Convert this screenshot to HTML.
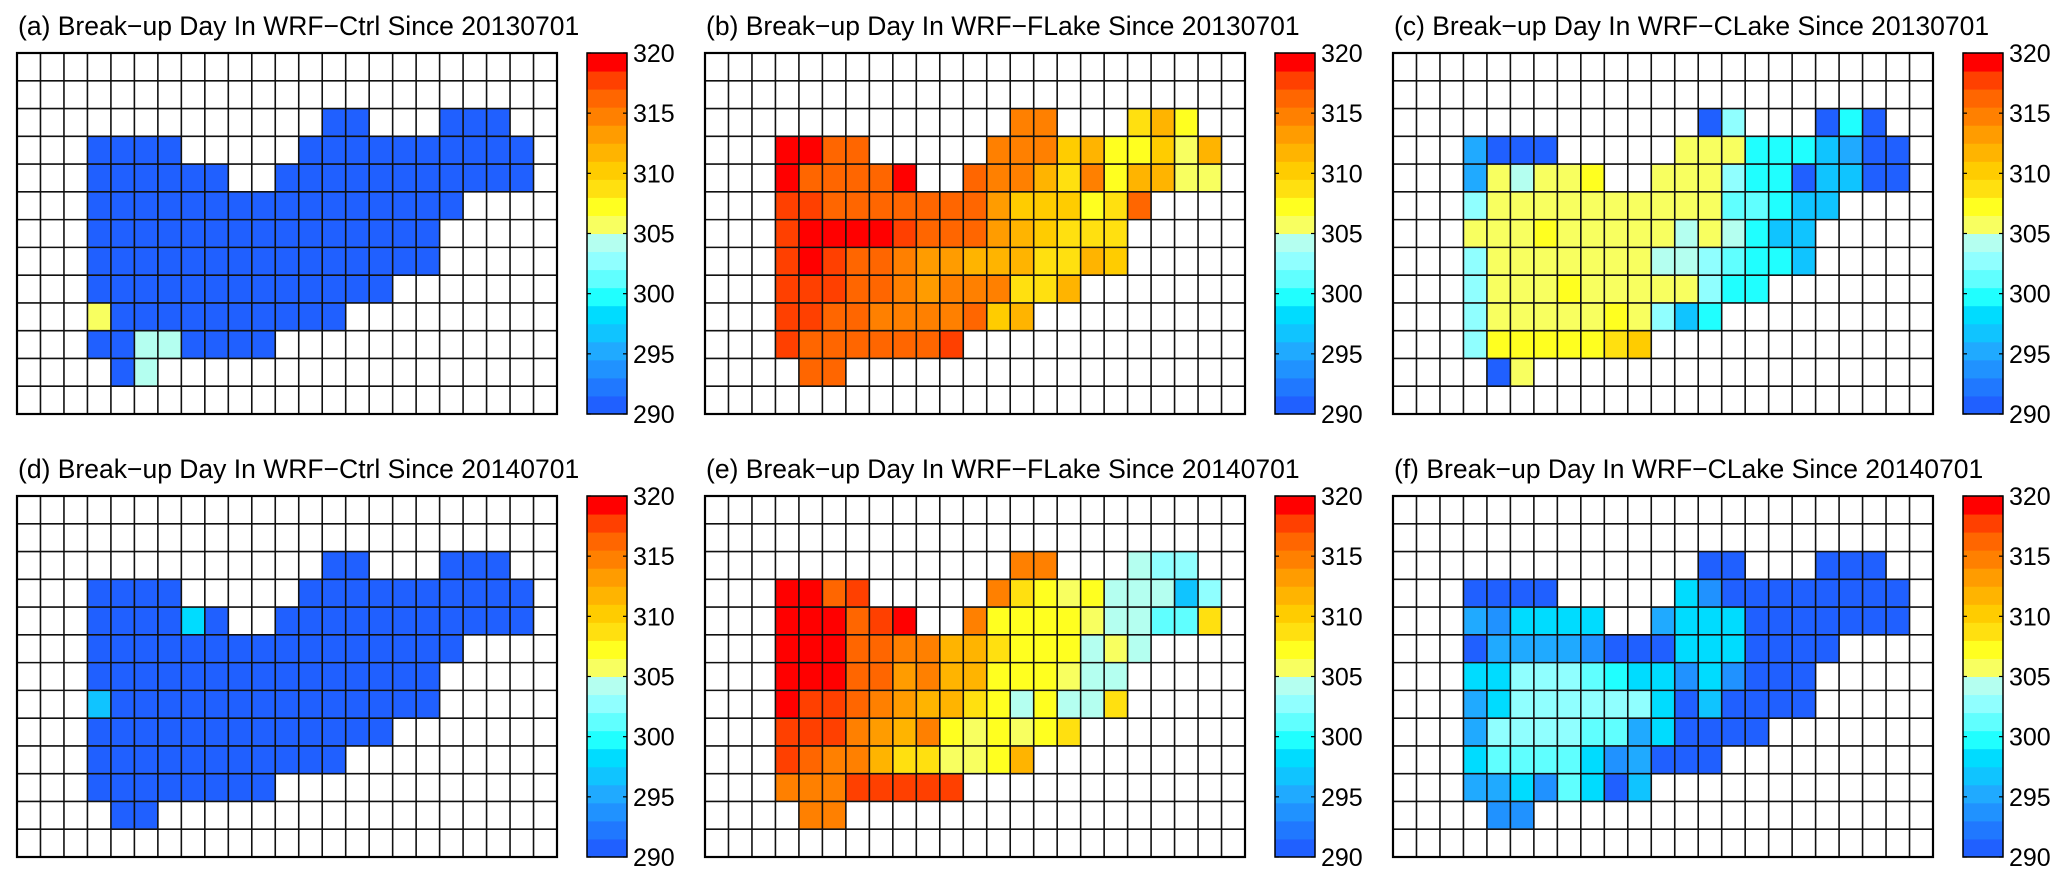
<!DOCTYPE html>
<html><head><meta charset="utf-8"><style>
html,body{margin:0;padding:0;background:#fff;}
svg{display:block;font-family:"Liberation Sans",Arial,sans-serif;}
</style></head><body>
<svg id="fig" width="2067" height="878" viewBox="0 0 2067 878" xmlns="http://www.w3.org/2000/svg"></svg>
<script>
const _ = null;
const titles = [
 "(a) Break\u2212up Day In WRF\u2212Ctrl Since 20130701",
 "(b) Break\u2212up Day In WRF\u2212FLake Since 20130701",
 "(c) Break\u2212up Day In WRF\u2212CLake Since 20130701",
 "(d) Break\u2212up Day In WRF\u2212Ctrl Since 20140701",
 "(e) Break\u2212up Day In WRF\u2212FLake Since 20140701",
 "(f) Break\u2212up Day In WRF\u2212CLake Since 20140701"];
const cbTicks = [290,295,300,305,310,315,320];
const cbMin = 290, cbMax = 320, cbBins = 20;
const E = [_,_,_,_,_,_,_,_,_,_,_,_,_,_,_,_,_,_,_,_,_,_,_];
const dataA = [E,E,
 [_,_,_,_,_,_,_,_,_,_,_,_,_,291,291,_,_,_,291,291,291,_,_],
 [_,_,_,291,291,291,291,_,_,_,_,_,291,291,291,291,291,291,291,291,291,291,_],
 [_,_,_,291,291,291,291,291,291,_,_,291,291,291,291,291,291,291,291,291,291,291,_],
 [_,_,_,291,291,291,291,291,291,291,291,291,291,291,291,291,291,291,291,_,_,_,_],
 [_,_,_,291,291,291,291,291,291,291,291,291,291,291,291,291,291,291,_,_,_,_,_],
 [_,_,_,291,291,291,291,291,291,291,291,291,291,291,291,291,291,291,_,_,_,_,_],
 [_,_,_,291,291,291,291,291,291,291,291,291,291,291,291,291,_,_,_,_,_,_,_],
 [_,_,_,306,291,291,291,291,291,291,291,291,291,291,_,_,_,_,_,_,_,_,_],
 [_,_,_,291,291,304,304,291,291,291,291,_,_,_,_,_,_,_,_,_,_,_,_],
 [_,_,_,_,291,304,_,_,_,_,_,_,_,_,_,_,_,_,_,_,_,_,_],
 E];
const dataB = [E,E,
 [_,_,_,_,_,_,_,_,_,_,_,_,_,315,315,_,_,_,309,312,307,_,_],
 [_,_,_,319,319,316,316,_,_,_,_,_,315,315,315,310,312,307,307,310,306,312,_],
 [_,_,_,319,316,316,316,316,319,_,_,316,315,315,312,309,315,307,312,312,306,306,_],
 [_,_,_,318,318,316,316,316,316,316,316,316,313,310,310,310,307,309,316,_,_,_,_],
 [_,_,_,318,319,319,319,319,318,316,316,316,313,312,310,309,309,309,_,_,_,_,_],
 [_,_,_,318,319,318,316,316,315,313,313,312,312,312,309,309,312,310,_,_,_,_,_],
 [_,_,_,318,318,318,316,316,315,313,315,315,315,309,309,312,_,_,_,_,_,_,_],
 [_,_,_,318,318,316,316,315,315,315,315,316,310,312,_,_,_,_,_,_,_,_,_],
 [_,_,_,318,316,316,316,316,316,316,318,_,_,_,_,_,_,_,_,_,_,_,_],
 [_,_,_,_,316,316,_,_,_,_,_,_,_,_,_,_,_,_,_,_,_,_,_],
 E];
const dataC = [E,E,
 [_,_,_,_,_,_,_,_,_,_,_,_,_,291,303,_,_,_,291,300,291,_,_],
 [_,_,_,295,291,291,291,_,_,_,_,_,306,306,306,300,300,300,297,295,291,291,_],
 [_,_,_,295,306,304,306,306,307,_,_,306,306,306,303,300,300,291,297,296,291,291,_],
 [_,_,_,303,306,306,306,306,306,306,306,306,306,306,301,301,300,297,297,_,_,_,_],
 [_,_,_,306,306,306,307,306,306,306,306,306,304,306,304,300,297,297,_,_,_,_,_],
 [_,_,_,303,306,306,306,306,306,306,306,304,304,303,301,300,300,297,_,_,_,_,_],
 [_,_,_,303,306,306,306,307,306,306,306,306,306,303,300,300,_,_,_,_,_,_,_],
 [_,_,_,303,306,306,306,306,306,307,306,303,297,300,_,_,_,_,_,_,_,_,_],
 [_,_,_,303,307,307,307,307,307,309,310,_,_,_,_,_,_,_,_,_,_,_,_],
 [_,_,_,_,291,306,_,_,_,_,_,_,_,_,_,_,_,_,_,_,_,_,_],
 E];
const dataD = [E,E,
 [_,_,_,_,_,_,_,_,_,_,_,_,_,291,291,_,_,_,291,291,291,_,_],
 [_,_,_,291,291,291,291,_,_,_,_,_,291,291,291,291,291,291,291,291,291,291,_],
 [_,_,_,291,291,291,291,298,291,_,_,291,291,291,291,291,291,291,291,291,291,291,_],
 [_,_,_,291,291,291,291,291,291,291,291,291,291,291,291,291,291,291,291,_,_,_,_],
 [_,_,_,291,291,291,291,291,291,291,291,291,291,291,291,291,291,291,_,_,_,_,_],
 [_,_,_,296,291,291,291,291,291,291,291,291,291,291,291,291,291,291,_,_,_,_,_],
 [_,_,_,291,291,291,291,291,291,291,291,291,291,291,291,291,_,_,_,_,_,_,_],
 [_,_,_,291,291,291,291,291,291,291,291,291,291,291,_,_,_,_,_,_,_,_,_],
 [_,_,_,291,291,291,291,291,291,291,291,_,_,_,_,_,_,_,_,_,_,_,_],
 [_,_,_,_,291,291,_,_,_,_,_,_,_,_,_,_,_,_,_,_,_,_,_],
 E];
const dataE = [E,E,
 [_,_,_,_,_,_,_,_,_,_,_,_,_,315,315,_,_,_,304,303,303,_,_],
 [_,_,_,319,319,316,318,_,_,_,_,_,315,309,307,306,307,304,304,304,297,303,_],
 [_,_,_,319,319,319,316,318,319,_,_,315,307,307,307,307,306,304,304,301,301,309,_],
 [_,_,_,319,319,319,316,316,315,315,312,312,309,307,307,307,304,306,304,_,_,_,_],
 [_,_,_,319,319,319,316,316,313,315,312,312,307,307,307,306,304,304,_,_,_,_,_],
 [_,_,_,319,318,318,316,315,313,312,312,309,307,304,307,304,304,309,_,_,_,_,_],
 [_,_,_,318,318,318,315,313,312,315,307,306,307,306,307,309,_,_,_,_,_,_,_],
 [_,_,_,318,316,315,315,312,309,309,306,306,307,312,_,_,_,_,_,_,_,_,_],
 [_,_,_,315,315,315,318,318,318,318,318,_,_,_,_,_,_,_,_,_,_,_,_],
 [_,_,_,_,315,315,_,_,_,_,_,_,_,_,_,_,_,_,_,_,_,_,_],
 E];
const dataF = [E,E,
 [_,_,_,_,_,_,_,_,_,_,_,_,_,291,291,_,_,_,291,291,291,_,_],
 [_,_,_,291,291,291,291,_,_,_,_,_,298,294,291,291,291,291,291,291,291,291,_],
 [_,_,_,295,294,298,298,298,298,_,_,295,298,298,298,291,291,291,291,291,291,291,_],
 [_,_,_,291,295,295,295,295,294,291,291,291,298,298,298,291,291,291,291,_,_,_,_],
 [_,_,_,298,298,303,303,303,301,300,298,298,294,298,294,291,291,291,_,_,_,_,_],
 [_,_,_,295,298,303,303,303,303,303,303,298,291,297,291,291,291,291,_,_,_,_,_],
 [_,_,_,295,303,303,303,303,301,301,295,298,291,291,291,291,_,_,_,_,_,_,_],
 [_,_,_,298,301,301,301,301,298,294,295,291,291,291,_,_,_,_,_,_,_,_,_],
 [_,_,_,295,295,298,294,301,298,291,297,_,_,_,_,_,_,_,_,_,_,_,_],
 [_,_,_,_,294,294,_,_,_,_,_,_,_,_,_,_,_,_,_,_,_,_,_],
 E];
const panelData = [dataA,dataB,dataC,dataD,dataE,dataF];

const binColors = ["#2060ff","#2078ff","#2092ff","#20aaff","#10c4ff","#00dcff","#20ffff","#60ffff","#90ffff","#b4fff0",
                   "#f8ff60","#ffff20","#ffe010","#ffcc00","#ffb400","#ff9c00","#ff8000","#ff6600","#ff4000","#ff0000"];
const NS = "http://www.w3.org/2000/svg";
const svg = document.getElementById("fig");
function mk(tag, attrs){ const e=document.createElementNS(NS,tag); for(const k in attrs) e.setAttribute(k,attrs[k]); return e; }
function colorOf(v){ let b=Math.floor((v-cbMin)/((cbMax-cbMin)/cbBins)); b=Math.max(0,Math.min(cbBins-1,b)); return binColors[b]; }

const gridW = 540, gridH = 361, nCols = 23, nRows = 13;
for (let p=0;p<6;p++){
  const pc = p%3, pr = Math.floor(p/3);
  const x0 = 17 + 688*pc, y0 = pr ? 496 : 53;
  const data = panelData[p];
  const cw = gridW/nCols, ch = gridH/nRows;
  const xs = c => x0 + c*cw, ys = r => y0 + r*ch;
  const g = mk("g",{});
  
  
  svg.appendChild(g);
  const t = mk("text",{x:x0+1,y:y0-18,"font-size":"26.5",fill:"#000"});
  
  
  t.textContent = titles[p];
  g.appendChild(t);
  for (let r=0;r<nRows;r++) for (let c=0;c<nCols;c++){
    const v = data[r][c];
    if (v===null) continue;
    const rc = mk("rect",{x:xs(c),y:ys(r),width:cw,height:ch,fill:colorOf(v)});
    
    
    g.appendChild(rc);
  }
  for (let c=0;c<=nCols;c++){
    const l = mk("line",{x1:xs(c),x2:xs(c),y1:y0,y2:y0+gridH,stroke:"#111","stroke-width":1.6});
    
    
    g.appendChild(l);
  }
  for (let r=0;r<=nRows;r++){
    const l = mk("line",{x1:x0,x2:x0+gridW,y1:ys(r),y2:ys(r),stroke:"#111","stroke-width":1.6});
    
    
    g.appendChild(l);
  }
  const frame = mk("rect",{x:x0,y:y0,width:gridW,height:gridH,fill:"none",stroke:"#000","stroke-width":2.2});
  
  
  g.appendChild(frame);
  const cbx = x0 + 570, cbw = 40;
  const cy = v => y0 + gridH - (v-cbMin)/(cbMax-cbMin)*gridH;
  const cb = mk("g",{});
  
  
  g.appendChild(cb);
  const step = (cbMax-cbMin)/cbBins;
  for (let b=0;b<cbBins;b++){
    const lo = cbMin + b*step, hi = lo + step;
    const br = mk("rect",{x:cbx,y:cy(hi),width:cbw,height:cy(lo)-cy(hi)+0.5,fill:binColors[b]});
    
    
    cb.appendChild(br);
  }
  const cbf = mk("rect",{x:cbx,y:y0,width:cbw,height:gridH,fill:"none",stroke:"#000","stroke-width":1.5});
  
  
  cb.appendChild(cbf);
  cbTicks.forEach(tv=>{
    const y = cy(tv);
    const t1 = mk("line",{x1:cbx,x2:cbx+4,y1:y,y2:y,stroke:"#000","stroke-width":1.2});
    
    
    cb.appendChild(t1);
    const t2 = mk("line",{x1:cbx+cbw-4,x2:cbx+cbw,y1:y,y2:y,stroke:"#000","stroke-width":1.2});
    
    
    cb.appendChild(t2);
    const lb = mk("text",{x:cbx+cbw+6,y:y+9,"font-size":"25",fill:"#000"});
    
    
    lb.textContent = tv;
    cb.appendChild(lb);
  });
}
</script>
</body></html>
